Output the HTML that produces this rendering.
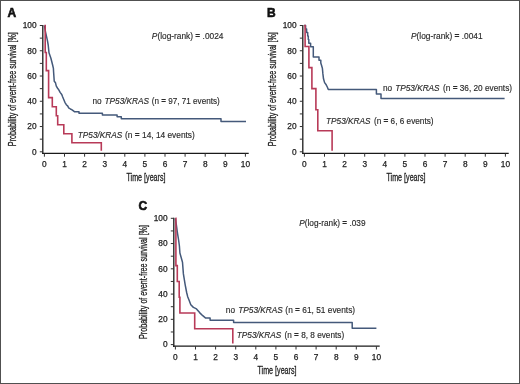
<!DOCTYPE html>
<html><head><meta charset="utf-8"><style>
html,body{margin:0;padding:0;background:#fff;}
.wrap{position:relative;width:520px;height:384px;box-sizing:border-box;border:1px solid #505050;overflow:hidden;background:#fff;}
svg{position:absolute;left:-1px;top:-1px;will-change:transform;}
text{font-family:"Liberation Sans",sans-serif;}
.let{font-size:12px;font-weight:bold;fill:#111;stroke:#111;stroke-width:0.6px;}
.tl{font-size:8.3px;fill:#222;stroke:#222;stroke-width:0.25px;}
.an{font-size:8.25px;fill:#2a2a2a;stroke:#2a2a2a;stroke-width:0.15px;}
.xl{font-size:10px;fill:#222;stroke:#222;stroke-width:0.3px;}
.yl{font-size:10px;fill:#222;stroke:#222;stroke-width:0.3px;}
.ax{stroke:#1a1a1a;stroke-width:1.3;fill:none;}
.tk{stroke:#333;stroke-width:1;fill:none;}
.rd{stroke:#b83a58;stroke-width:1.6;fill:none;stroke-linejoin:miter;}
.bl{stroke:#44597a;stroke-width:1.5;fill:none;stroke-linejoin:round;}
</style></head><body><div class="wrap">
<svg width="520" height="384" viewBox="0 0 520 384">
<g transform="translate(0 0)">
<text x="7.4" y="17.4" class="let">A</text>
<line x1="42.8" y1="25" x2="42.8" y2="154.1" class="ax"/>
<line x1="42.199999999999996" y1="153.4" x2="248.7" y2="153.4" class="ax"/>
<line x1="39.8" y1="151.8" x2="42.8" y2="151.8" class="tk"/>
<line x1="39.8" y1="139.17" x2="42.8" y2="139.17" class="tk"/>
<line x1="39.8" y1="126.54" x2="42.8" y2="126.54" class="tk"/>
<line x1="39.8" y1="113.91" x2="42.8" y2="113.91" class="tk"/>
<line x1="39.8" y1="101.28" x2="42.8" y2="101.28" class="tk"/>
<line x1="39.8" y1="88.65" x2="42.8" y2="88.65" class="tk"/>
<line x1="39.8" y1="76.02" x2="42.8" y2="76.02" class="tk"/>
<line x1="39.8" y1="63.39" x2="42.8" y2="63.39" class="tk"/>
<line x1="39.8" y1="50.76" x2="42.8" y2="50.76" class="tk"/>
<line x1="39.8" y1="38.13" x2="42.8" y2="38.13" class="tk"/>
<line x1="39.8" y1="25.5" x2="42.8" y2="25.5" class="tk"/>
<text x="36.6" y="154.7" class="tl" text-anchor="end">0</text>
<text x="36.6" y="129.44" class="tl" text-anchor="end">20</text>
<text x="36.6" y="104.18" class="tl" text-anchor="end">40</text>
<text x="36.6" y="78.92" class="tl" text-anchor="end">60</text>
<text x="36.6" y="53.66" class="tl" text-anchor="end">80</text>
<text x="36.6" y="28.4" class="tl" text-anchor="end">100</text>
<line x1="44.4" y1="153.4" x2="44.4" y2="156.7" class="tk"/>
<text x="44.4" y="166.8" class="tl" text-anchor="middle">0</text>
<line x1="64.5" y1="153.4" x2="64.5" y2="156.7" class="tk"/>
<text x="64.5" y="166.8" class="tl" text-anchor="middle">1</text>
<line x1="84.6" y1="153.4" x2="84.6" y2="156.7" class="tk"/>
<text x="84.6" y="166.8" class="tl" text-anchor="middle">2</text>
<line x1="104.7" y1="153.4" x2="104.7" y2="156.7" class="tk"/>
<text x="104.7" y="166.8" class="tl" text-anchor="middle">3</text>
<line x1="124.8" y1="153.4" x2="124.8" y2="156.7" class="tk"/>
<text x="124.8" y="166.8" class="tl" text-anchor="middle">4</text>
<line x1="144.9" y1="153.4" x2="144.9" y2="156.7" class="tk"/>
<text x="144.9" y="166.8" class="tl" text-anchor="middle">5</text>
<line x1="165" y1="153.4" x2="165" y2="156.7" class="tk"/>
<text x="165" y="166.8" class="tl" text-anchor="middle">6</text>
<line x1="185.1" y1="153.4" x2="185.1" y2="156.7" class="tk"/>
<text x="185.1" y="166.8" class="tl" text-anchor="middle">7</text>
<line x1="205.2" y1="153.4" x2="205.2" y2="156.7" class="tk"/>
<text x="205.2" y="166.8" class="tl" text-anchor="middle">8</text>
<line x1="225.3" y1="153.4" x2="225.3" y2="156.7" class="tk"/>
<text x="225.3" y="166.8" class="tl" text-anchor="middle">9</text>
<line x1="245.4" y1="153.4" x2="245.4" y2="156.7" class="tk"/>
<text x="245.4" y="166.8" class="tl" text-anchor="middle">10</text>
<text x="146" y="181.5" class="xl" text-anchor="middle" transform="translate(146 0) scale(0.715 1) translate(-146 0)">Time [years]</text>
<text class="yl" text-anchor="middle" transform="translate(15.9 89.2) rotate(-90) scale(0.714 1)">Probability of event-free survival [%]</text>
<polyline points="44.4,25.5 45.5,31.8 46.5,36.3 47.5,40.9 48.2,45 49,52.8 50.9,58.3 52.5,64.5 53.4,68.4 53.6,72 54.25,81.2 55.5,82.8 56.3,86.2 57.6,88.25 58.8,89.9 60.1,92.4 61.75,94.5 62.5,96.5 63.75,99.5 64.9,102.3 66.3,104.7 67.8,106.1 68.65,107.8 70.4,109 72.1,109.85 74.4,111.7 79,111.7 79,113.3 102.4,113.3 102.4,115 117.1,115 117.1,116.7 121.3,116.7 121.3,118.7 221,118.7 221,121.4 246,121.4" class="bl"/>
<polyline points="44.4,25.5 45.2,25.5 45.2,52.56 46.3,52.56 46.3,70.61 48.6,70.61 48.6,97.67 52.3,97.67 52.3,106.69 56.3,106.69 56.3,115.71 57.7,115.71 57.7,124.74 63.8,124.74 63.8,133.76 71.9,133.76 71.9,142.78 101.3,142.78 101.3,150.8" class="rd"/>
</g>
<g transform="translate(260 0)">
<text x="6.9" y="17.4" class="let">B</text>
<line x1="42.8" y1="25" x2="42.8" y2="154.1" class="ax"/>
<line x1="42.199999999999996" y1="153.4" x2="248.7" y2="153.4" class="ax"/>
<line x1="39.8" y1="151.8" x2="42.8" y2="151.8" class="tk"/>
<line x1="39.8" y1="139.17" x2="42.8" y2="139.17" class="tk"/>
<line x1="39.8" y1="126.54" x2="42.8" y2="126.54" class="tk"/>
<line x1="39.8" y1="113.91" x2="42.8" y2="113.91" class="tk"/>
<line x1="39.8" y1="101.28" x2="42.8" y2="101.28" class="tk"/>
<line x1="39.8" y1="88.65" x2="42.8" y2="88.65" class="tk"/>
<line x1="39.8" y1="76.02" x2="42.8" y2="76.02" class="tk"/>
<line x1="39.8" y1="63.39" x2="42.8" y2="63.39" class="tk"/>
<line x1="39.8" y1="50.76" x2="42.8" y2="50.76" class="tk"/>
<line x1="39.8" y1="38.13" x2="42.8" y2="38.13" class="tk"/>
<line x1="39.8" y1="25.5" x2="42.8" y2="25.5" class="tk"/>
<text x="36.6" y="154.7" class="tl" text-anchor="end">0</text>
<text x="36.6" y="129.44" class="tl" text-anchor="end">20</text>
<text x="36.6" y="104.18" class="tl" text-anchor="end">40</text>
<text x="36.6" y="78.92" class="tl" text-anchor="end">60</text>
<text x="36.6" y="53.66" class="tl" text-anchor="end">80</text>
<text x="36.6" y="28.4" class="tl" text-anchor="end">100</text>
<line x1="44.4" y1="153.4" x2="44.4" y2="156.7" class="tk"/>
<text x="44.4" y="166.8" class="tl" text-anchor="middle">0</text>
<line x1="64.5" y1="153.4" x2="64.5" y2="156.7" class="tk"/>
<text x="64.5" y="166.8" class="tl" text-anchor="middle">1</text>
<line x1="84.6" y1="153.4" x2="84.6" y2="156.7" class="tk"/>
<text x="84.6" y="166.8" class="tl" text-anchor="middle">2</text>
<line x1="104.7" y1="153.4" x2="104.7" y2="156.7" class="tk"/>
<text x="104.7" y="166.8" class="tl" text-anchor="middle">3</text>
<line x1="124.8" y1="153.4" x2="124.8" y2="156.7" class="tk"/>
<text x="124.8" y="166.8" class="tl" text-anchor="middle">4</text>
<line x1="144.9" y1="153.4" x2="144.9" y2="156.7" class="tk"/>
<text x="144.9" y="166.8" class="tl" text-anchor="middle">5</text>
<line x1="165" y1="153.4" x2="165" y2="156.7" class="tk"/>
<text x="165" y="166.8" class="tl" text-anchor="middle">6</text>
<line x1="185.1" y1="153.4" x2="185.1" y2="156.7" class="tk"/>
<text x="185.1" y="166.8" class="tl" text-anchor="middle">7</text>
<line x1="205.2" y1="153.4" x2="205.2" y2="156.7" class="tk"/>
<text x="205.2" y="166.8" class="tl" text-anchor="middle">8</text>
<line x1="225.3" y1="153.4" x2="225.3" y2="156.7" class="tk"/>
<text x="225.3" y="166.8" class="tl" text-anchor="middle">9</text>
<line x1="245.4" y1="153.4" x2="245.4" y2="156.7" class="tk"/>
<text x="245.4" y="166.8" class="tl" text-anchor="middle">10</text>
<text x="146" y="181.5" class="xl" text-anchor="middle" transform="translate(146 0) scale(0.715 1) translate(-146 0)">Time [years]</text>
<text class="yl" text-anchor="middle" transform="translate(15.9 89.2) rotate(-90) scale(0.714 1)">Probability of event-free survival [%]</text>
<polyline points="44.2,25.5 45.6,25.5 45.6,29 46.6,29 46.6,32.5 47.7,32.5 47.7,36 48.3,36 48.3,39.6 48.8,39.6 48.8,43.2 50.6,43.2 50.6,46.7 53.3,46.7 53.3,56.9 59,56.9 59,60.2 60.8,60.2 60.8,63 61.6,65.5 62.4,68.4 62.9,73.9 63.5,78.8 64.6,82.6 66.2,84.8 67.3,87 68.3,89.6 116.4,89.6 116.4,94 121,94 121,98.4 244.6,98.4" class="bl"/>
<polyline points="44.2,25.5 45.1,25.5 45.1,46.55 48.9,46.55 48.9,67.6 51.9,67.6 51.9,88.65 55.9,88.65 55.9,109.7 57.8,109.7 57.8,130.75 72.1,130.75 72.1,150.8" class="rd"/>
</g>
<g transform="translate(131 192.8)">
<text x="7.4" y="17.4" class="let">C</text>
<line x1="42.8" y1="25" x2="42.8" y2="154.1" class="ax"/>
<line x1="42.199999999999996" y1="153.4" x2="248.7" y2="153.4" class="ax"/>
<line x1="39.8" y1="151.8" x2="42.8" y2="151.8" class="tk"/>
<line x1="39.8" y1="139.17" x2="42.8" y2="139.17" class="tk"/>
<line x1="39.8" y1="126.54" x2="42.8" y2="126.54" class="tk"/>
<line x1="39.8" y1="113.91" x2="42.8" y2="113.91" class="tk"/>
<line x1="39.8" y1="101.28" x2="42.8" y2="101.28" class="tk"/>
<line x1="39.8" y1="88.65" x2="42.8" y2="88.65" class="tk"/>
<line x1="39.8" y1="76.02" x2="42.8" y2="76.02" class="tk"/>
<line x1="39.8" y1="63.39" x2="42.8" y2="63.39" class="tk"/>
<line x1="39.8" y1="50.76" x2="42.8" y2="50.76" class="tk"/>
<line x1="39.8" y1="38.13" x2="42.8" y2="38.13" class="tk"/>
<line x1="39.8" y1="25.5" x2="42.8" y2="25.5" class="tk"/>
<text x="36.6" y="154.7" class="tl" text-anchor="end">0</text>
<text x="36.6" y="129.44" class="tl" text-anchor="end">20</text>
<text x="36.6" y="104.18" class="tl" text-anchor="end">40</text>
<text x="36.6" y="78.92" class="tl" text-anchor="end">60</text>
<text x="36.6" y="53.66" class="tl" text-anchor="end">80</text>
<text x="36.6" y="28.4" class="tl" text-anchor="end">100</text>
<line x1="44.4" y1="153.4" x2="44.4" y2="156.7" class="tk"/>
<text x="44.4" y="166.8" class="tl" text-anchor="middle">0</text>
<line x1="64.5" y1="153.4" x2="64.5" y2="156.7" class="tk"/>
<text x="64.5" y="166.8" class="tl" text-anchor="middle">1</text>
<line x1="84.6" y1="153.4" x2="84.6" y2="156.7" class="tk"/>
<text x="84.6" y="166.8" class="tl" text-anchor="middle">2</text>
<line x1="104.7" y1="153.4" x2="104.7" y2="156.7" class="tk"/>
<text x="104.7" y="166.8" class="tl" text-anchor="middle">3</text>
<line x1="124.8" y1="153.4" x2="124.8" y2="156.7" class="tk"/>
<text x="124.8" y="166.8" class="tl" text-anchor="middle">4</text>
<line x1="144.9" y1="153.4" x2="144.9" y2="156.7" class="tk"/>
<text x="144.9" y="166.8" class="tl" text-anchor="middle">5</text>
<line x1="165" y1="153.4" x2="165" y2="156.7" class="tk"/>
<text x="165" y="166.8" class="tl" text-anchor="middle">6</text>
<line x1="185.1" y1="153.4" x2="185.1" y2="156.7" class="tk"/>
<text x="185.1" y="166.8" class="tl" text-anchor="middle">7</text>
<line x1="205.2" y1="153.4" x2="205.2" y2="156.7" class="tk"/>
<text x="205.2" y="166.8" class="tl" text-anchor="middle">8</text>
<line x1="225.3" y1="153.4" x2="225.3" y2="156.7" class="tk"/>
<text x="225.3" y="166.8" class="tl" text-anchor="middle">9</text>
<line x1="245.4" y1="153.4" x2="245.4" y2="156.7" class="tk"/>
<text x="245.4" y="166.8" class="tl" text-anchor="middle">10</text>
<text x="146" y="181.5" class="xl" text-anchor="middle" transform="translate(146 0) scale(0.715 1) translate(-146 0)">Time [years]</text>
<text class="yl" text-anchor="middle" transform="translate(15.9 89.2) rotate(-90) scale(0.714 1)">Probability of event-free survival [%]</text>
<polyline points="44.3,25.5 45.25,31.4 46,36.8 46.4,39.95 46.8,42.3 47.6,47.2 48.4,53.2 48.9,60.2 51.5,69.4 52.4,81.1 54.1,91.5 54.6,94.2 55.6,99.45 56.6,103.6 58.2,107.8 59.8,111.95 62.4,114.6 65.5,116.1 68.6,119.8 71.75,122.9 74.4,125.1 79.1,125.1 79.1,127.5 102.6,127.5 102.6,129.8 221.2,129.8 221.2,135.4 245.4,135.4" class="bl"/>
<polyline points="44.4,25.5 44.9,25.5 44.9,72.86 46.3,72.86 46.3,88.65 48.2,88.65 48.2,104.44 48.9,104.44 48.9,120.23 63.7,120.23 63.7,136.01 101.8,136.01 101.8,150.8" class="rd"/>
</g>
<text x="151.85" y="38.6" class="an" textLength="71.58" lengthAdjust="spacingAndGlyphs"><tspan font-style="italic">P</tspan>(log-rank) <tspan font-weight="bold">=</tspan> .0024</text>
<text x="411" y="38.6" class="an" textLength="71.63" lengthAdjust="spacingAndGlyphs"><tspan font-style="italic">P</tspan>(log-rank) <tspan font-weight="bold">=</tspan> .0041</text>
<text x="299.2" y="226.2" class="an" textLength="66.33" lengthAdjust="spacingAndGlyphs"><tspan font-style="italic">P</tspan>(log-rank) <tspan font-weight="bold">=</tspan> .039</text>
<text x="92.4" y="104.4" class="an">no</text>
<text x="104.55" y="104.4" class="an" font-style="italic">TP53/KRAS</text>
<text x="151.81" y="104.4" class="an" textLength="67.91" lengthAdjust="spacingAndGlyphs">(n <tspan font-weight="bold">=</tspan> 97, 71 events)</text>
<text x="383" y="91.3" class="an">no</text>
<text x="395.15" y="91.3" class="an" font-style="italic">TP53/KRAS</text>
<text x="443" y="91.3" class="an" textLength="69.03" lengthAdjust="spacingAndGlyphs">(n <tspan font-weight="bold">=</tspan> 36, 20 events)</text>
<text x="225.8" y="312.8" class="an">no</text>
<text x="238.25" y="312.8" class="an" font-style="italic">TP53/KRAS</text>
<text x="285.39" y="312.8" class="an" textLength="69.74" lengthAdjust="spacingAndGlyphs">(n <tspan font-weight="bold">=</tspan> 61, 51 events)</text>
<text x="77.75" y="138" class="an" font-style="italic">TP53/KRAS</text>
<text x="125.1" y="138" class="an" textLength="69.69" lengthAdjust="spacingAndGlyphs">(n <tspan font-weight="bold">=</tspan> 14, 14 events)</text>
<text x="326.05" y="124.3" class="an" font-style="italic">TP53/KRAS</text>
<text x="373.9" y="124.3" class="an" textLength="59.66" lengthAdjust="spacingAndGlyphs">(n <tspan font-weight="bold">=</tspan> 6, 6 events)</text>
<text x="236.75" y="338.4" class="an" font-style="italic">TP53/KRAS</text>
<text x="284.5" y="338.4" class="an" textLength="59.66" lengthAdjust="spacingAndGlyphs">(n <tspan font-weight="bold">=</tspan> 8, 8 events)</text>
</svg></div></body></html>
